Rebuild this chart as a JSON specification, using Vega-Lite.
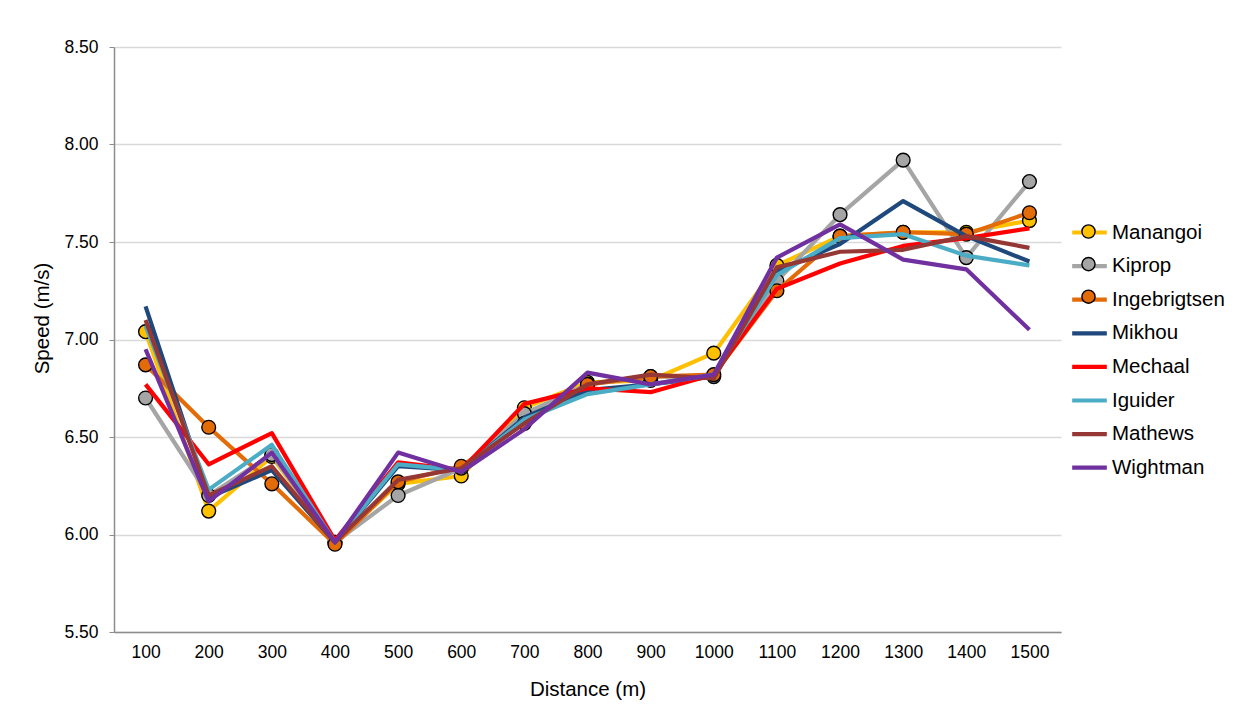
{
  "$schema": "https://vega.github.io/schema/vega-lite/v6.json",
  "autosize": {"type": "none"},
  "padding": {"left": 114, "top": 47, "right": 192, "bottom": 90},
  "width": 947,
  "height": 585,
  "background": "white",
  "config": {
    "font": "Liberation Sans",
    "view": {"stroke": null},
    "axis": {"labelFont": "Liberation Sans", "titleFont": "Liberation Sans", "labelColor": "#000000", "titleColor": "#000000", "titleFontWeight": "normal"}
  },
  "data": {"values": [
    {"Distance":100,"Runner":"Manangoi","Speed":7.04},{"Distance":200,"Runner":"Manangoi","Speed":6.12},{"Distance":300,"Runner":"Manangoi","Speed":6.40},{"Distance":400,"Runner":"Manangoi","Speed":5.96},{"Distance":500,"Runner":"Manangoi","Speed":6.26},{"Distance":600,"Runner":"Manangoi","Speed":6.30},{"Distance":700,"Runner":"Manangoi","Speed":6.65},{"Distance":800,"Runner":"Manangoi","Speed":6.78},{"Distance":900,"Runner":"Manangoi","Speed":6.79},{"Distance":1000,"Runner":"Manangoi","Speed":6.93},{"Distance":1100,"Runner":"Manangoi","Speed":7.38},{"Distance":1200,"Runner":"Manangoi","Speed":7.53},{"Distance":1300,"Runner":"Manangoi","Speed":7.55},{"Distance":1400,"Runner":"Manangoi","Speed":7.55},{"Distance":1500,"Runner":"Manangoi","Speed":7.61},
    {"Distance":100,"Runner":"Kiprop","Speed":6.70},{"Distance":200,"Runner":"Kiprop","Speed":6.20},{"Distance":300,"Runner":"Kiprop","Speed":6.41},{"Distance":400,"Runner":"Kiprop","Speed":5.96},{"Distance":500,"Runner":"Kiprop","Speed":6.20},{"Distance":600,"Runner":"Kiprop","Speed":6.34},{"Distance":700,"Runner":"Kiprop","Speed":6.62},{"Distance":800,"Runner":"Kiprop","Speed":6.77},{"Distance":900,"Runner":"Kiprop","Speed":6.81},{"Distance":1000,"Runner":"Kiprop","Speed":6.81},{"Distance":1100,"Runner":"Kiprop","Speed":7.30},{"Distance":1200,"Runner":"Kiprop","Speed":7.64},{"Distance":1300,"Runner":"Kiprop","Speed":7.92},{"Distance":1400,"Runner":"Kiprop","Speed":7.42},{"Distance":1500,"Runner":"Kiprop","Speed":7.81},
    {"Distance":100,"Runner":"Ingebrigtsen","Speed":6.87},{"Distance":200,"Runner":"Ingebrigtsen","Speed":6.55},{"Distance":300,"Runner":"Ingebrigtsen","Speed":6.26},{"Distance":400,"Runner":"Ingebrigtsen","Speed":5.95},{"Distance":500,"Runner":"Ingebrigtsen","Speed":6.27},{"Distance":600,"Runner":"Ingebrigtsen","Speed":6.35},{"Distance":700,"Runner":"Ingebrigtsen","Speed":6.57},{"Distance":800,"Runner":"Ingebrigtsen","Speed":6.77},{"Distance":900,"Runner":"Ingebrigtsen","Speed":6.81},{"Distance":1000,"Runner":"Ingebrigtsen","Speed":6.82},{"Distance":1100,"Runner":"Ingebrigtsen","Speed":7.25},{"Distance":1200,"Runner":"Ingebrigtsen","Speed":7.53},{"Distance":1300,"Runner":"Ingebrigtsen","Speed":7.55},{"Distance":1400,"Runner":"Ingebrigtsen","Speed":7.54},{"Distance":1500,"Runner":"Ingebrigtsen","Speed":7.65},
    {"Distance":100,"Runner":"Mikhou","Speed":7.17},{"Distance":200,"Runner":"Mikhou","Speed":6.19},{"Distance":300,"Runner":"Mikhou","Speed":6.33},{"Distance":400,"Runner":"Mikhou","Speed":5.96},{"Distance":500,"Runner":"Mikhou","Speed":6.35},{"Distance":600,"Runner":"Mikhou","Speed":6.33},{"Distance":700,"Runner":"Mikhou","Speed":6.60},{"Distance":800,"Runner":"Mikhou","Speed":6.74},{"Distance":900,"Runner":"Mikhou","Speed":6.77},{"Distance":1000,"Runner":"Mikhou","Speed":6.81},{"Distance":1100,"Runner":"Mikhou","Speed":7.35},{"Distance":1200,"Runner":"Mikhou","Speed":7.49},{"Distance":1300,"Runner":"Mikhou","Speed":7.71},{"Distance":1400,"Runner":"Mikhou","Speed":7.53},{"Distance":1500,"Runner":"Mikhou","Speed":7.40},
    {"Distance":100,"Runner":"Mechaal","Speed":6.77},{"Distance":200,"Runner":"Mechaal","Speed":6.36},{"Distance":300,"Runner":"Mechaal","Speed":6.52},{"Distance":400,"Runner":"Mechaal","Speed":5.97},{"Distance":500,"Runner":"Mechaal","Speed":6.37},{"Distance":600,"Runner":"Mechaal","Speed":6.33},{"Distance":700,"Runner":"Mechaal","Speed":6.67},{"Distance":800,"Runner":"Mechaal","Speed":6.75},{"Distance":900,"Runner":"Mechaal","Speed":6.73},{"Distance":1000,"Runner":"Mechaal","Speed":6.82},{"Distance":1100,"Runner":"Mechaal","Speed":7.26},{"Distance":1200,"Runner":"Mechaal","Speed":7.39},{"Distance":1300,"Runner":"Mechaal","Speed":7.48},{"Distance":1400,"Runner":"Mechaal","Speed":7.52},{"Distance":1500,"Runner":"Mechaal","Speed":7.57},
    {"Distance":100,"Runner":"Iguider","Speed":7.07},{"Distance":200,"Runner":"Iguider","Speed":6.23},{"Distance":300,"Runner":"Iguider","Speed":6.46},{"Distance":400,"Runner":"Iguider","Speed":5.96},{"Distance":500,"Runner":"Iguider","Speed":6.36},{"Distance":600,"Runner":"Iguider","Speed":6.33},{"Distance":700,"Runner":"Iguider","Speed":6.59},{"Distance":800,"Runner":"Iguider","Speed":6.72},{"Distance":900,"Runner":"Iguider","Speed":6.77},{"Distance":1000,"Runner":"Iguider","Speed":6.82},{"Distance":1100,"Runner":"Iguider","Speed":7.33},{"Distance":1200,"Runner":"Iguider","Speed":7.52},{"Distance":1300,"Runner":"Iguider","Speed":7.54},{"Distance":1400,"Runner":"Iguider","Speed":7.43},{"Distance":1500,"Runner":"Iguider","Speed":7.38},
    {"Distance":100,"Runner":"Mathews","Speed":7.10},{"Distance":200,"Runner":"Mathews","Speed":6.20},{"Distance":300,"Runner":"Mathews","Speed":6.35},{"Distance":400,"Runner":"Mathews","Speed":5.96},{"Distance":500,"Runner":"Mathews","Speed":6.28},{"Distance":600,"Runner":"Mathews","Speed":6.34},{"Distance":700,"Runner":"Mathews","Speed":6.57},{"Distance":800,"Runner":"Mathews","Speed":6.77},{"Distance":900,"Runner":"Mathews","Speed":6.82},{"Distance":1000,"Runner":"Mathews","Speed":6.80},{"Distance":1100,"Runner":"Mathews","Speed":7.37},{"Distance":1200,"Runner":"Mathews","Speed":7.45},{"Distance":1300,"Runner":"Mathews","Speed":7.46},{"Distance":1400,"Runner":"Mathews","Speed":7.53},{"Distance":1500,"Runner":"Mathews","Speed":7.47},
    {"Distance":100,"Runner":"Wightman","Speed":6.95},{"Distance":200,"Runner":"Wightman","Speed":6.17},{"Distance":300,"Runner":"Wightman","Speed":6.42},{"Distance":400,"Runner":"Wightman","Speed":5.96},{"Distance":500,"Runner":"Wightman","Speed":6.42},{"Distance":600,"Runner":"Wightman","Speed":6.32},{"Distance":700,"Runner":"Wightman","Speed":6.54},{"Distance":800,"Runner":"Wightman","Speed":6.83},{"Distance":900,"Runner":"Wightman","Speed":6.77},{"Distance":1000,"Runner":"Wightman","Speed":6.82},{"Distance":1100,"Runner":"Wightman","Speed":7.42},{"Distance":1200,"Runner":"Wightman","Speed":7.59},{"Distance":1300,"Runner":"Wightman","Speed":7.41},{"Distance":1400,"Runner":"Wightman","Speed":7.36},{"Distance":1500,"Runner":"Wightman","Speed":7.05}
  ]},
  "encoding": {
    "x": {"field": "Distance", "type": "ordinal", "scale": {"type": "point", "padding": 0.5},
      "axis": {"title": "Distance (m)", "labelAngle": 0, "labelFontSize": 17.5, "labelPadding": 11, "ticks": false, "grid": false, "domainColor": "#8c8c8c", "domainWidth": 1.5, "titleFontSize": 20.5, "titleBaseline": "middle", "titleY": 57}},
    "y": {"field": "Speed", "type": "quantitative", "scale": {"domain": [5.5, 8.5], "nice": false, "zero": false},
      "axis": {"title": "Speed (m/s)", "values": [5.5, 6, 6.5, 7, 7.5, 8, 8.5], "format": ".2f", "labelFontSize": 17.5, "labelPadding": 11, "tickSize": 5, "tickColor": "#8c8c8c", "domainColor": "#8c8c8c", "domainWidth": 1.5, "gridColor": "#d9d9d9", "gridWidth": 1.3, "titleFontSize": 20.5, "titleAlign": "center", "titleBaseline": "middle", "titleX": -72, "titleY": 271, "titleAngle": -90}}
  },
  "layer": [
    {
      "transform": [{"filter": {"field": "Runner", "equal": "Manangoi"}}],
      "mark": {"type": "line", "strokeWidth": 4.2, "strokeJoin": "round"},
      "encoding": {
        "color": {"field": "Runner", "type": "nominal",
          "scale": {"domain": ["Manangoi","Kiprop","Ingebrigtsen","Mikhou","Mechaal","Iguider","Mathews","Wightman"],
                    "range": ["#FFC000","#A5A5A5","#E36C09","#1F497D","#FF0000","#4BACC6","#953735","#7030A0"]},
          "legend": {"title": null, "orient": "none", "legendX": 956, "legendY": 166, "symbolType": "stroke", "symbolSize": 1200, "symbolStrokeWidth": 4.2, "labelFontSize": 20.5, "labelFont": "Liberation Sans", "labelColor": "#000000", "labelOffset": 3, "rowPadding": 3.6, "labelLimit": 200}}
      }
    },
    {
      "transform": [{"filter": {"field": "Runner", "equal": "Manangoi"}}],
      "mark": {"type": "circle", "size": 190, "stroke": "#000000", "strokeWidth": 1.4, "opacity": 1},
      "encoding": {
        "fill": {"field": "Runner", "type": "nominal",
          "scale": {"domain": ["Manangoi","Kiprop","Ingebrigtsen"], "range": ["#FFC000","#A5A5A5","#E36C09"]},
          "legend": {"title": null, "orient": "none", "legendX": 956, "legendY": 166, "symbolType": "M-0.38,0A0.38,0.38,0,1,0,0.38,0A0.38,0.38,0,1,0,-0.38,0Z", "symbolSize": 1200, "symbolStrokeColor": "#000000", "symbolStrokeWidth": 1.4, "symbolOpacity": 1, "labelFontSize": 20.5, "labelFont": "Liberation Sans", "labelExpr": "' '", "labelOpacity": 0, "labelOffset": 3, "rowPadding": 3.6, "labelLimit": 200}}
      }
    },
    {
      "transform": [{"filter": {"field": "Runner", "equal": "Kiprop"}}],
      "mark": {"type": "line", "strokeWidth": 4.2, "strokeJoin": "round"},
      "encoding": {
        "color": {"field": "Runner", "type": "nominal",
          "scale": {"domain": ["Manangoi","Kiprop","Ingebrigtsen","Mikhou","Mechaal","Iguider","Mathews","Wightman"],
                    "range": ["#FFC000","#A5A5A5","#E36C09","#1F497D","#FF0000","#4BACC6","#953735","#7030A0"]}}
      }
    },
    {
      "transform": [{"filter": {"field": "Runner", "equal": "Kiprop"}}],
      "mark": {"type": "circle", "size": 190, "stroke": "#000000", "strokeWidth": 1.4, "opacity": 1},
      "encoding": {
        "fill": {"field": "Runner", "type": "nominal",
          "scale": {"domain": ["Manangoi","Kiprop","Ingebrigtsen"], "range": ["#FFC000","#A5A5A5","#E36C09"]}}
      }
    },
    {
      "transform": [{"filter": {"field": "Runner", "equal": "Ingebrigtsen"}}],
      "mark": {"type": "line", "strokeWidth": 4.2, "strokeJoin": "round"},
      "encoding": {
        "color": {"field": "Runner", "type": "nominal",
          "scale": {"domain": ["Manangoi","Kiprop","Ingebrigtsen","Mikhou","Mechaal","Iguider","Mathews","Wightman"],
                    "range": ["#FFC000","#A5A5A5","#E36C09","#1F497D","#FF0000","#4BACC6","#953735","#7030A0"]}}
      }
    },
    {
      "transform": [{"filter": {"field": "Runner", "equal": "Ingebrigtsen"}}],
      "mark": {"type": "circle", "size": 190, "stroke": "#000000", "strokeWidth": 1.4, "opacity": 1},
      "encoding": {
        "fill": {"field": "Runner", "type": "nominal",
          "scale": {"domain": ["Manangoi","Kiprop","Ingebrigtsen"], "range": ["#FFC000","#A5A5A5","#E36C09"]}}
      }
    },
    {
      "transform": [{"filter": {"field": "Runner", "oneOf": ["Mikhou","Mechaal","Iguider","Mathews","Wightman"]}}],
      "mark": {"type": "line", "strokeWidth": 4.2, "strokeJoin": "round"},
      "encoding": {
        "color": {"field": "Runner", "type": "nominal",
          "scale": {"domain": ["Manangoi","Kiprop","Ingebrigtsen","Mikhou","Mechaal","Iguider","Mathews","Wightman"],
                    "range": ["#FFC000","#A5A5A5","#E36C09","#1F497D","#FF0000","#4BACC6","#953735","#7030A0"]}}
      }
    }
  ]
}
